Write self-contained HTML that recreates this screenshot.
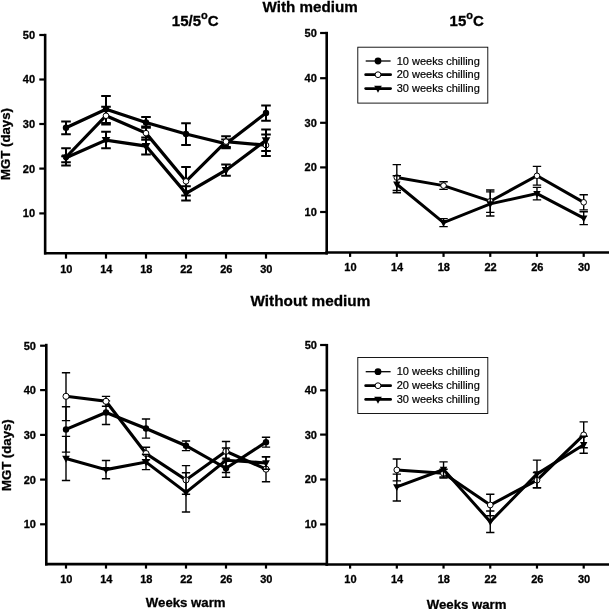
<!DOCTYPE html>
<html lang="en"><head><meta charset="utf-8"><title>MGT figure</title>
<style>html,body{margin:0;padding:0;background:#fff;}body{width:609px;height:609px;overflow:hidden;}svg{display:block;will-change:transform;font-family:"Liberation Sans", Arial, Helvetica, sans-serif;}</style>
</head><body>
<svg width="609" height="609" viewBox="0 0 609 609">
<rect width="609" height="609" fill="#fff"/>
<g stroke="#000" stroke-width="2.6" fill="none" stroke-linecap="butt">
<path d="M45.15 33.8V254.5"/>
<path d="M44 253.2H327.7"/>
<path d="M326.7 31.8V254.5"/>
<path d="M325.4 252.55H609"/>
<path d="M46.3 343.8V565.5"/>
<path d="M45 564.15H328"/>
<path d="M326.85 343.9V565.8"/>
<path d="M325.5 564.5H609"/>
</g>
<g stroke="#000" stroke-width="2.2" fill="none">
<path d="M39.3 35H45"/>
<path d="M39.3 79.5H45"/>
<path d="M39.3 124H45"/>
<path d="M39.3 168.6H45"/>
<path d="M39.3 213.4H45"/>
<path d="M320.1 33H326"/>
<path d="M320.1 78.2H326"/>
<path d="M320.1 122.8H326"/>
<path d="M320.1 167.4H326"/>
<path d="M320.1 212H326"/>
<path d="M40.1 345.7H46"/>
<path d="M40.1 390.1H46"/>
<path d="M40.1 434.9H46"/>
<path d="M40.1 479.6H46"/>
<path d="M40.1 524.3H46"/>
<path d="M320.1 345H326"/>
<path d="M320.1 390.3H326"/>
<path d="M320.1 434.6H326"/>
<path d="M320.1 479.5H326"/>
<path d="M320.1 524.4H326"/>
<path d="M66 253.2V258.6"/>
<path d="M66 564.2V568.6"/>
<path d="M350.1 252.5V256.9"/>
<path d="M350.1 564.2V568.6"/>
<path d="M106 253.2V258.6"/>
<path d="M106 564.2V568.6"/>
<path d="M396.82 252.5V256.9"/>
<path d="M396.82 564.2V568.6"/>
<path d="M146 253.2V258.6"/>
<path d="M146 564.2V568.6"/>
<path d="M443.54 252.5V256.9"/>
<path d="M443.54 564.2V568.6"/>
<path d="M186 253.2V258.6"/>
<path d="M186 564.2V568.6"/>
<path d="M490.26 252.5V256.9"/>
<path d="M490.26 564.2V568.6"/>
<path d="M226 253.2V258.6"/>
<path d="M226 564.2V568.6"/>
<path d="M536.98 252.5V256.9"/>
<path d="M536.98 564.2V568.6"/>
<path d="M266 253.2V258.6"/>
<path d="M266 564.2V568.6"/>
<path d="M583.7 252.5V256.9"/>
<path d="M583.7 564.2V568.6"/>
</g>
<polyline points="66,127.8 106,109.28 146,122.44 186,134.04 226,143.86 266,113.07" fill="none" stroke="#000" stroke-width="3.2" stroke-linejoin="miter"/>
<path d="M66 121.46V134.13M61.2 121.46H70.8M61.2 134.13H70.8M106 95.89V123.11M101.2 95.89H110.8M101.2 123.11H110.8M146 117.09V127.8M141.2 117.09H150.8M141.2 127.8H150.8M186 123.33V144.98M181.2 123.33H190.8M181.2 144.98H190.8M226 139.4V148.32M221.2 139.4H230.8M221.2 148.32H230.8M266 105.48V120.66M261.2 105.48H270.8M261.2 120.66H270.8" fill="none" stroke="#000" stroke-width="2.0"/>
<circle cx="66" cy="127.8" r="3.2" fill="#000"/>
<circle cx="106" cy="109.28" r="3.2" fill="#000"/>
<circle cx="146" cy="122.44" r="3.2" fill="#000"/>
<circle cx="186" cy="134.04" r="3.2" fill="#000"/>
<circle cx="226" cy="143.86" r="3.2" fill="#000"/>
<circle cx="266" cy="113.07" r="3.2" fill="#000"/>
<polyline points="66,157.25 106,115.75 146,133.15 186,181.35 226,141.63 266,145.2" fill="none" stroke="#000" stroke-width="3.2" stroke-linejoin="miter"/>
<path d="M66 148.14V162.33M61.2 148.14H70.8M61.2 162.33H70.8M106 106.82V124.45M101.2 106.82H110.8M101.2 124.45H110.8M146 126.46V139.84M141.2 126.46H150.8M141.2 139.84H150.8M186 167.07V195.62M181.2 167.07H190.8M181.2 195.62H190.8M226 136.27V146.98M221.2 136.27H230.8M221.2 146.98H230.8M266 134.49V155.91M261.2 134.49H270.8M261.2 155.91H270.8" fill="none" stroke="#000" stroke-width="2.0"/>
<circle cx="66" cy="157.25" r="2.8" fill="#fff" stroke="#000" stroke-width="1"/>
<circle cx="106" cy="115.75" r="2.8" fill="#fff" stroke="#000" stroke-width="1"/>
<circle cx="146" cy="133.15" r="2.8" fill="#fff" stroke="#000" stroke-width="1"/>
<circle cx="186" cy="181.35" r="2.8" fill="#fff" stroke="#000" stroke-width="1"/>
<circle cx="226" cy="141.63" r="2.8" fill="#fff" stroke="#000" stroke-width="1"/>
<circle cx="266" cy="145.2" r="2.8" fill="#fff" stroke="#000" stroke-width="1"/>
<polyline points="66,157.69 106,140.07 146,146.09 186,193.39 226,170.19 266,140.29" fill="none" stroke="#000" stroke-width="3.2" stroke-linejoin="miter"/>
<path d="M66 156.36V165.5M61.2 156.36H70.8M61.2 165.5H70.8M106 131.86V148.28M101.2 131.86H110.8M101.2 148.28H110.8M146 137.61V154.57M141.2 137.61H150.8M141.2 154.57H150.8M186 186.25V200.53M181.2 186.25H190.8M181.2 200.53H190.8M226 164.61V175.77M221.2 164.61H230.8M221.2 175.77H230.8M266 129.58V151M261.2 129.58H270.8M261.2 151H270.8" fill="none" stroke="#000" stroke-width="2.0"/>
<polygon points="61.7,154.6 70.3,154.6 66,162.51" fill="#000"/>
<polygon points="101.7,136.97 110.3,136.97 106,144.88" fill="#000"/>
<polygon points="141.7,143 150.3,143 146,150.91" fill="#000"/>
<polygon points="181.7,190.3 190.3,190.3 186,198.21" fill="#000"/>
<polygon points="221.7,167.09 230.3,167.09 226,175" fill="#000"/>
<polygon points="261.7,137.19 270.3,137.19 266,145.11" fill="#000"/>
<polyline points="396.82,177.56 443.54,185.59 490.26,201.21 536.98,175.78 583.7,202.33" fill="none" stroke="#000" stroke-width="3.0" stroke-linejoin="miter"/>
<path d="M396.82 164.62V190.5M392.62 164.62H401.02M392.62 190.5H401.02M443.54 181.8V189.39M439.34 181.8H447.74M439.34 189.39H447.74M490.26 190.06V212.37M486.06 190.06H494.46M486.06 212.37H494.46M536.98 166.4V185.15M532.78 166.4H541.18M532.78 185.15H541.18M583.7 194.74V209.91M579.5 194.74H587.9M579.5 209.91H587.9" fill="none" stroke="#000" stroke-width="1.4"/>
<circle cx="396.82" cy="177.56" r="2.8" fill="#fff" stroke="#000" stroke-width="1"/>
<circle cx="443.54" cy="185.59" r="2.8" fill="#fff" stroke="#000" stroke-width="1"/>
<circle cx="490.26" cy="201.21" r="2.8" fill="#fff" stroke="#000" stroke-width="1"/>
<circle cx="536.98" cy="175.78" r="2.8" fill="#fff" stroke="#000" stroke-width="1"/>
<circle cx="583.7" cy="202.33" r="2.8" fill="#fff" stroke="#000" stroke-width="1"/>
<polyline points="396.82,184.25 443.54,222.63 490.26,203.89 536.98,193.62 583.7,218.17" fill="none" stroke="#000" stroke-width="3.0" stroke-linejoin="miter"/>
<path d="M396.82 175.78V192.73M392.62 175.78H401.02M392.62 192.73H401.02M443.54 218.62V226.65M439.34 218.62H447.74M439.34 226.65H447.74M490.26 191.84V215.94M486.06 191.84H494.46M486.06 215.94H494.46M536.98 187.38V199.87M532.78 187.38H541.18M532.78 199.87H541.18M583.7 211.7V224.64M579.5 211.7H587.9M579.5 224.64H587.9" fill="none" stroke="#000" stroke-width="1.4"/>
<polygon points="393.12,181.59 400.52,181.59 396.82,188.4" fill="#000"/>
<polygon points="439.84,219.97 447.24,219.97 443.54,226.78" fill="#000"/>
<polygon points="486.56,201.22 493.96,201.22 490.26,208.03" fill="#000"/>
<polygon points="533.28,190.96 540.68,190.96 536.98,197.77" fill="#000"/>
<polygon points="580,215.5 587.4,215.5 583.7,222.31" fill="#000"/>
<polyline points="66,429.44 106,412.48 146,428.55 186,445.74 226,468.29 266,442.17" fill="none" stroke="#000" stroke-width="3.1" stroke-linejoin="miter"/>
<path d="M66 406.8V452.08M61.85 406.8H70.15M61.85 452.08H70.15M106 400.87V424.53M101.85 400.87H110.15M101.85 424.53H110.15M146 418.95V438.15M141.85 418.95H150.15M141.85 438.15H150.15M186 441.05V450.65M181.85 441.05H190.15M181.85 450.65H190.15M226 458.91V477.22M221.85 458.91H230.15M221.85 477.22H230.15M266 437.26V447.08M261.85 437.26H270.15M261.85 447.08H270.15" fill="none" stroke="#000" stroke-width="1.4"/>
<circle cx="66" cy="429.44" r="3.2" fill="#000"/>
<circle cx="106" cy="412.48" r="3.2" fill="#000"/>
<circle cx="146" cy="428.55" r="3.2" fill="#000"/>
<circle cx="186" cy="445.74" r="3.2" fill="#000"/>
<circle cx="226" cy="468.29" r="3.2" fill="#000"/>
<circle cx="266" cy="442.17" r="3.2" fill="#000"/>
<polyline points="66,396.31 106,401.31 146,453.55 186,479.9 226,451.32 266,469.18" fill="none" stroke="#000" stroke-width="3.1" stroke-linejoin="miter"/>
<path d="M66 372.74V420.65M61.85 372.74H70.15M61.85 420.65H70.15M106 396.4V406.22M101.85 396.4H110.15M101.85 406.22H110.15M146 447.3V459.8M141.85 447.3H150.15M141.85 459.8H150.15M186 465.61V494.18M181.85 465.61H190.15M181.85 494.18H190.15M226 441.5V461.14M221.85 441.5H230.15M221.85 461.14H230.15M266 456.68V481.68M261.85 456.68H270.15M261.85 481.68H270.15" fill="none" stroke="#000" stroke-width="1.4"/>
<circle cx="66" cy="396.31" r="3.05" fill="#fff" stroke="#000" stroke-width="1"/>
<circle cx="106" cy="401.31" r="3.05" fill="#fff" stroke="#000" stroke-width="1"/>
<circle cx="146" cy="453.55" r="3.05" fill="#fff" stroke="#000" stroke-width="1"/>
<circle cx="186" cy="479.9" r="3.05" fill="#fff" stroke="#000" stroke-width="1"/>
<circle cx="226" cy="451.32" r="3.05" fill="#fff" stroke="#000" stroke-width="1"/>
<circle cx="266" cy="469.18" r="3.05" fill="#fff" stroke="#000" stroke-width="1"/>
<polyline points="66,458.46 106,469.63 146,462.04 186,492.4 226,460.25 266,462.93" fill="none" stroke="#000" stroke-width="3.1" stroke-linejoin="miter"/>
<path d="M66 436.41V480.52M61.85 436.41H70.15M61.85 480.52H70.15M106 460.47V478.78M101.85 460.47H110.15M101.85 478.78H110.15M146 454.45V469.63M141.85 454.45H150.15M141.85 469.63H150.15M186 472.75V512.04M181.85 472.75H190.15M181.85 512.04H190.15M226 447.97V472.53M221.85 447.97H230.15M221.85 472.53H230.15M266 456.68V469.18M261.85 456.68H270.15M261.85 469.18H270.15" fill="none" stroke="#000" stroke-width="1.4"/>
<polygon points="62.2,455.73 69.8,455.73 66,462.72" fill="#000"/>
<polygon points="102.2,466.89 109.8,466.89 106,473.88" fill="#000"/>
<polygon points="142.2,459.3 149.8,459.3 146,466.29" fill="#000"/>
<polygon points="182.2,489.66 189.8,489.66 186,496.65" fill="#000"/>
<polygon points="222.2,457.51 229.8,457.51 226,464.51" fill="#000"/>
<polygon points="262.2,460.19 269.8,460.19 266,467.19" fill="#000"/>
<polyline points="396.82,469.92 443.54,473.27 490.26,504.97 536.98,480.19 583.7,434.87" fill="none" stroke="#000" stroke-width="3.0" stroke-linejoin="miter"/>
<path d="M396.82 458.98V480.86M392.67 458.98H400.97M392.67 480.86H400.97M443.54 469.25V477.96M439.39 469.25H447.69M439.39 477.96H447.69M490.26 494.26V515.69M486.11 494.26H494.41M486.11 515.69H494.41M536.98 472.6V487.78M532.83 472.6H541.13M532.83 487.78H541.13M583.7 421.92V447.82M579.55 421.92H587.85M579.55 447.82H587.85" fill="none" stroke="#000" stroke-width="1.4"/>
<circle cx="396.82" cy="469.92" r="2.9" fill="#fff" stroke="#000" stroke-width="1"/>
<circle cx="443.54" cy="473.27" r="2.9" fill="#fff" stroke="#000" stroke-width="1"/>
<circle cx="490.26" cy="504.97" r="2.9" fill="#fff" stroke="#000" stroke-width="1"/>
<circle cx="536.98" cy="480.19" r="2.9" fill="#fff" stroke="#000" stroke-width="1"/>
<circle cx="583.7" cy="434.87" r="2.9" fill="#fff" stroke="#000" stroke-width="1"/>
<polyline points="396.82,486.89 443.54,469.48 490.26,521.72 536.98,473.94 583.7,444.7" fill="none" stroke="#000" stroke-width="3.0" stroke-linejoin="miter"/>
<path d="M396.82 474.17V500.96M392.67 474.17H400.97M392.67 500.96H400.97M443.54 461.89V477.07M439.39 461.89H447.69M439.39 477.07H447.69M490.26 511V532.43M486.11 511H494.41M486.11 532.43H494.41M536.98 460.1V487.78M532.83 460.1H541.13M532.83 487.78H541.13M583.7 436.21V453.18M579.55 436.21H587.85M579.55 453.18H587.85" fill="none" stroke="#000" stroke-width="1.4"/>
<polygon points="393.12,484.23 400.52,484.23 396.82,491.03" fill="#000"/>
<polygon points="439.84,466.81 447.24,466.81 443.54,473.62" fill="#000"/>
<polygon points="486.56,519.05 493.96,519.05 490.26,525.86" fill="#000"/>
<polygon points="533.28,471.28 540.68,471.28 536.98,478.09" fill="#000"/>
<polygon points="580,442.03 587.4,442.03 583.7,448.84" fill="#000"/>
<rect x="357.8" y="47.2" width="130" height="55.9" fill="#fff" stroke="#000" stroke-width="0.9"/>
<path d="M365.7 61H390.6" stroke="#000" stroke-width="1.3"/>
<circle cx="378" cy="61" r="3.4" fill="#000"/>
<text x="396.7" y="64.6" font-size="11" fill="#000" stroke="#000" stroke-width="0.2">10 weeks chilling</text>
<path d="M365.7 74.7H390.6" stroke="#000" stroke-width="2.8" stroke-linecap="round"/>
<circle cx="378" cy="74.7" r="2.9" fill="#fff" stroke="#000" stroke-width="1"/>
<text x="396.7" y="78.3" font-size="11" fill="#000" stroke="#000" stroke-width="0.2">20 weeks chilling</text>
<path d="M365.7 88.6H390.6" stroke="#000" stroke-width="2.8" stroke-linecap="round"/>
<polygon points="374.2,85.86 381.8,85.86 378,92.86" fill="#000"/>
<text x="396.7" y="92.2" font-size="11" fill="#000" stroke="#000" stroke-width="0.2">30 weeks chilling</text>
<rect x="357.8" y="357.5" width="130" height="56" fill="#fff" stroke="#000" stroke-width="0.9"/>
<path d="M365.7 371.7H390.6" stroke="#000" stroke-width="1.3"/>
<circle cx="378" cy="371.7" r="3.4" fill="#000"/>
<text x="396.7" y="375.3" font-size="11" fill="#000" stroke="#000" stroke-width="0.2">10 weeks chilling</text>
<path d="M365.7 385.7H390.6" stroke="#000" stroke-width="2.8" stroke-linecap="round"/>
<circle cx="378" cy="385.7" r="2.9" fill="#fff" stroke="#000" stroke-width="1"/>
<text x="396.7" y="389.3" font-size="11" fill="#000" stroke="#000" stroke-width="0.2">20 weeks chilling</text>
<path d="M365.7 399.4H390.6" stroke="#000" stroke-width="2.8" stroke-linecap="round"/>
<polygon points="374.2,396.66 381.8,396.66 378,403.66" fill="#000"/>
<text x="396.7" y="403" font-size="11" fill="#000" stroke="#000" stroke-width="0.2">30 weeks chilling</text>
<g font-weight="bold" fill="#000" stroke="#000" stroke-width="0.3">
<g font-size="11" text-anchor="end">
<text x="35.1" y="38.9">50</text>
<text x="35.1" y="83.4">40</text>
<text x="35.1" y="127.9">30</text>
<text x="35.1" y="172.5">20</text>
<text x="35.1" y="217.3">10</text>
<text x="316.8" y="36.9">50</text>
<text x="316.8" y="82.1">40</text>
<text x="316.8" y="126.7">30</text>
<text x="316.8" y="171.3">20</text>
<text x="316.8" y="215.9">10</text>
<text x="36" y="349.6">50</text>
<text x="36" y="394">40</text>
<text x="36" y="438.8">30</text>
<text x="36" y="483.5">20</text>
<text x="36" y="528.2">10</text>
<text x="316.9" y="349.4">50</text>
<text x="316.9" y="394.2">40</text>
<text x="316.9" y="438.5">30</text>
<text x="316.9" y="483.4">20</text>
<text x="316.9" y="528.3">10</text>
</g>
<g font-size="11" text-anchor="middle">
<text x="66.3" y="272.7">10</text>
<text x="66.3" y="583.1">10</text>
<text x="350.4" y="270.6">10</text>
<text x="350.4" y="583.1">10</text>
<text x="106.3" y="272.7">14</text>
<text x="106.3" y="583.1">14</text>
<text x="397.12" y="270.6">14</text>
<text x="397.12" y="583.1">14</text>
<text x="146.3" y="272.7">18</text>
<text x="146.3" y="583.1">18</text>
<text x="443.84" y="270.6">18</text>
<text x="443.84" y="583.1">18</text>
<text x="186.3" y="272.7">22</text>
<text x="186.3" y="583.1">22</text>
<text x="490.56" y="270.6">22</text>
<text x="490.56" y="583.1">22</text>
<text x="226.3" y="272.7">26</text>
<text x="226.3" y="583.1">26</text>
<text x="537.28" y="270.6">26</text>
<text x="537.28" y="583.1">26</text>
<text x="266.3" y="272.7">30</text>
<text x="266.3" y="583.1">30</text>
<text x="584" y="270.6">30</text>
<text x="584" y="583.1">30</text>
</g>
<text x="310.2" y="11.5" font-size="15.2" text-anchor="middle">With medium</text>
<text x="310.4" y="306.4" font-size="15.3" text-anchor="middle">Without medium</text>
<text x="171.8" y="26" font-size="15">15/5<tspan font-size="11" dy="-6.8">o</tspan><tspan dy="6.8">C</tspan></text>
<text x="449.6" y="26.1" font-size="15">15<tspan font-size="11" dy="-6.8">o</tspan><tspan dy="6.8">C</tspan></text>
 <text x="185.7" y="606.8" font-size="13.2" text-anchor="middle">Weeks warm</text>
 <text x="466.6" y="608.8" font-size="13.2" text-anchor="middle">Weeks warm</text>
<text transform="translate(9.9 144) rotate(-90)" font-size="13.2" text-anchor="middle">MGT (days)</text>
<text transform="translate(11.1 455.2) rotate(-90)" font-size="13.2" text-anchor="middle">MGT (days)</text>
</g>
</svg></body></html>
